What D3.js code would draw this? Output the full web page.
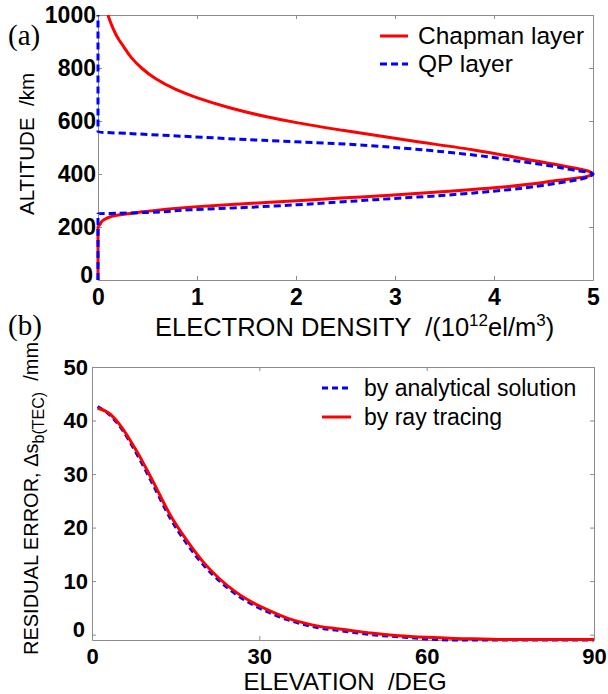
<!DOCTYPE html>
<html>
<head>
<meta charset="utf-8">
<script src="https://cdn.jsdelivr.net/npm/d3@7"></script>
<style>
  body { margin: 0; background: #fff; }
  svg { display: block; font-family: "Liberation Sans", Arial, Helvetica, sans-serif; }
  text { white-space: pre; }
</style>
</head>
<body>
<div id="chart"></div>
<script>
// Panel (a): electron density profiles (altitude in km, density in 1e12 el/m^3)
const chapmanAlt = [0, 200, 210, 225, 244, 256, 275, 287, 299, 309, 320, 333, 353, 376, 390, 400, 410, 420, 452, 490, 527, 565, 593, 618, 650, 689, 720, 760, 800, 840, 880, 920, 960, 1000];
const chapmanNe = [0, 0, 0.02, 0.05, 0.19, 0.42, 0.93, 1.44, 2.01, 2.45, 2.95, 3.47, 4.15, 4.65, 4.93, 5.0, 4.96, 4.85, 4.38, 3.81, 3.13, 2.47, 2.02, 1.68, 1.33, 0.99, 0.78, 0.58, 0.44, 0.335, 0.26, 0.19, 0.14, 0.10];
const qpAlt = [0, 250, 252, 254, 265, 273, 284, 293, 303, 319, 341, 366, 385, 400, 408, 414, 430, 445, 471, 496, 515, 527, 540, 553, 559, 1000];
const qpNe = [0, 0, 0.2, 0.42, 0.93, 1.44, 2.01, 2.4, 2.79, 3.47, 4.15, 4.65, 4.92, 5.0, 4.93, 4.82, 4.58, 4.31, 3.81, 3.13, 2.4, 1.66, 0.98, 0.30, 0, 0];
const densityTicks = [0, 1, 2, 3, 4, 5];
const altitudeTicks = [0, 200, 400, 600, 800, 1000];

// Panel (b): residual error vs elevation (deg, mm)
const elevation = [1, 3, 5, 8, 11, 14, 17, 20, 23, 26, 29, 32, 35, 38, 41, 44, 47, 50, 55, 60, 65, 70, 75, 80, 85, 90];
const analyticalErr = [42.6, 41.2, 38.9, 33.8, 27.9, 21.8, 17.0, 13.0, 9.9, 7.4, 5.5, 4.0, 2.8, 1.9, 1.2, 0.8, 0.4, 0.0, -0.4, -0.8, -1.0, -1.0, -1.0, -1.0, -1.0, -1.0];
const rayTracingErr = [42.3, 41.4, 39.2, 34.3, 28.5, 22.4, 17.6, 13.5, 10.3, 7.8, 5.9, 4.4, 3.1, 2.2, 1.5, 1.1, 0.7, 0.3, -0.2, -0.5, -0.7, -0.8, -0.9, -0.9, -0.9, -0.9];
const elevationTicks = [0, 30, 60, 90];
const errorTicks = [0, 10, 20, 30, 40, 50];

const width = 608, height = 694;
const axisColor = '#8c8c8c';
const red = '#ff0000';
const blue = '#0000ff';

const svg = d3.select('#chart')
  .append('svg')
  .attr('width', width)
  .attr('height', height);

svg.append('rect').attr('width', width).attr('height', height).attr('fill', '#fff');

// box with inward ticks on all four sides, labels on bottom and left
function drawFrame(x, y, xTicks, yTicks, o) {
  const [x0, x1] = x.range();
  const [y0, y1] = y.range();
  const fmt = d3.format('d');
  const styleAxis = g => {
    g.attr('font-family', null).attr('font-size', null);
    g.select('.domain').attr('stroke', axisColor);
    g.selectAll('.tick line').attr('stroke', axisColor);
    g.selectAll('.tick text')
      .attr('fill', '#000')
      .style('font-size', o.tickFont + 'px')
      .style('font-weight', 'bold');
  };

  svg.append('g')
    .attr('transform', `translate(0,${y0})`)
    .call(d3.axisBottom(x).tickValues(xTicks).tickFormat(fmt).tickSize(-4).tickSizeOuter(0).tickPadding(o.xPad))
    .call(styleAxis);
  svg.append('g')
    .attr('transform', `translate(0,${y1})`)
    .call(d3.axisTop(x).tickValues(xTicks).tickSize(-4).tickSizeOuter(0).tickFormat(''))
    .call(styleAxis);
  const left = svg.append('g')
    .attr('transform', `translate(${x0},0)`)
    .call(d3.axisLeft(y).tickValues(yTicks).tickFormat(fmt).tickSize(-4).tickSizeOuter(0).tickPadding(o.yPad))
    .call(styleAxis);
  // the zero label sits a little up and left of the corner
  left.selectAll('.tick text').filter(d => d === 0)
    .attr('dy', '0.1em')
    .attr('x', -o.yPad - 3);
  svg.append('g')
    .attr('transform', `translate(${x1},0)`)
    .call(d3.axisRight(y).tickValues(yTicks).tickSize(-4).tickSizeOuter(0).tickFormat(''))
    .call(styleAxis);
}

// ---------- Panel (a) ----------
const xA = d3.scaleLinear().domain([0, 5]).range([98, 593]);
const yA = d3.scaleLinear().domain([0, 1000]).range([280, 15]);
drawFrame(xA, yA, densityTicks, altitudeTicks, { tickFont: 23, xPad: 9, yPad: 2 });

const profileLine = d3.line()
  .x(d => xA(d[0]))
  .y(d => yA(d[1]))
  .curve(d3.curveMonotoneY);

svg.append('path')
  .datum(d3.zip(chapmanNe, chapmanAlt))
  .attr('fill', 'none')
  .attr('stroke', red)
  .attr('stroke-width', 3)
  .attr('d', profileLine);

svg.append('path')
  .datum(d3.zip(qpNe, qpAlt))
  .attr('fill', 'none')
  .attr('stroke', blue)
  .attr('stroke-width', 3)
  .attr('stroke-dasharray', '7,4')
  .attr('d', profileLine);

// legend (a)
const legA = [
  { label: 'Chapman layer', color: red, dash: null, y: 36 },
  { label: 'QP layer', color: blue, dash: '7,4', y: 64 }
];
legA.forEach(d => {
  svg.append('line')
    .attr('x1', 380).attr('x2', 408)
    .attr('y1', d.y).attr('y2', d.y)
    .attr('stroke', d.color)
    .attr('stroke-width', 3)
    .attr('stroke-dasharray', d.dash);
  svg.append('text')
    .attr('x', 418)
    .attr('y', d.y + 8)
    .style('font-size', '24.5px')
    .text(d.label);
});

svg.append('text')
  .attr('x', 8).attr('y', 45)
  .style('font-family', '"Liberation Serif", "Times New Roman", serif')
  .style('font-size', '29px')
  .text('(a)');

svg.append('text')
  .attr('transform', 'translate(34,215) rotate(-90)')
  .style('font-size', '20.5px')
  .text('ALTITUDE  /km');

const xLabA = svg.append('text')
  .attr('x', 155).attr('y', 336)
  .style('font-size', '25.5px');
xLabA.append('tspan').text('ELECTRON DENSITY  /(10');
xLabA.append('tspan').attr('dy', -10).style('font-size', '17px').text('12');
xLabA.append('tspan').attr('dy', 10).text('el/m');
xLabA.append('tspan').attr('dy', -10).style('font-size', '17px').text('3');
xLabA.append('tspan').attr('dy', 10).text(')');

// ---------- Panel (b) ----------
const xB = d3.scaleLinear().domain([0, 90]).range([92, 594]);
const yB = d3.scaleLinear().domain([-1, 50]).range([640, 367]);
drawFrame(xB, yB, elevationTicks, errorTicks, { tickFont: 22, xPad: 8, yPad: 4 });

const errLine = d3.line()
  .x((d, i) => xB(elevation[i]))
  .y(d => yB(d))
  .curve(d3.curveMonotoneX);

svg.append('path')
  .datum(analyticalErr)
  .attr('fill', 'none')
  .attr('stroke', blue)
  .attr('stroke-width', 3)
  .attr('stroke-dasharray', '6,4')
  .attr('d', errLine);

svg.append('path')
  .datum(rayTracingErr)
  .attr('fill', 'none')
  .attr('stroke', red)
  .attr('stroke-width', 3)
  .attr('d', errLine);

// legend (b)
const legB = [
  { label: 'by analytical solution', color: blue, dash: '6,4', y: 388 },
  { label: 'by ray tracing', color: red, dash: null, y: 417 }
];
legB.forEach(d => {
  svg.append('line')
    .attr('x1', 322).attr('x2', 351)
    .attr('y1', d.y).attr('y2', d.y)
    .attr('stroke', d.color)
    .attr('stroke-width', 3)
    .attr('stroke-dasharray', d.dash);
  svg.append('text')
    .attr('x', 364)
    .attr('y', d.y + 8)
    .style('font-size', '23px')
    .text(d.label);
});

svg.append('text')
  .attr('x', 8).attr('y', 335)
  .style('font-family', '"Liberation Serif", "Times New Roman", serif')
  .style('font-size', '29px')
  .text('(b)');

const yLabB = svg.append('text')
  .attr('transform', 'translate(38,655) rotate(-90)')
  .style('font-size', '20px');
yLabB.append('tspan').text('RESIDUAL ERROR, \u0394s');
yLabB.append('tspan').attr('dy', 6).style('font-size', '16px').text('b(TEC)');
yLabB.append('tspan').attr('dy', -6).text('  /mm');

svg.append('text')
  .attr('x', 345).attr('y', 690)
  .attr('text-anchor', 'middle')
  .style('font-size', '24px')
  .text('ELEVATION  /DEG');
</script>
</body>
</html>
